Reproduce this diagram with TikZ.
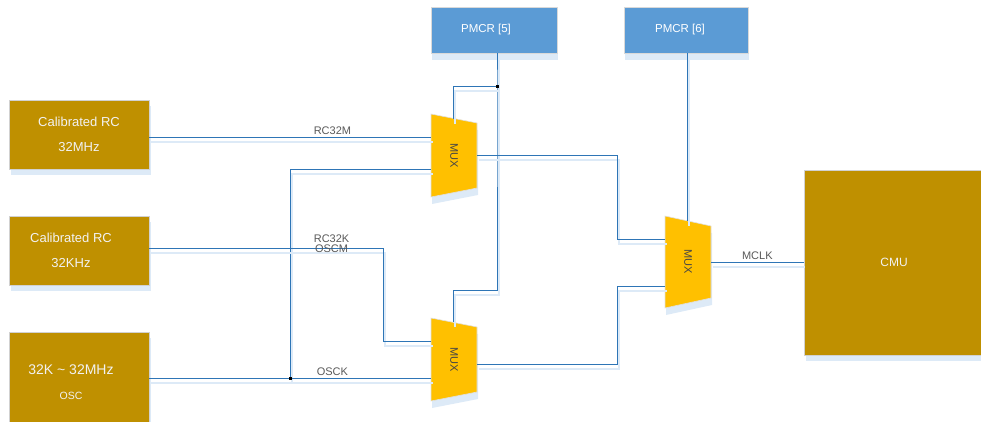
\documentclass[tikz,border=0pt]{standalone}
\usepackage{fontspec}
\setmainfont{Liberation Sans}
\usepackage{xcolor}
\usepackage{tikz}
\usetikzlibrary{positioning,shadows}
\definecolor{ouro}{RGB}{191,144,0}
\definecolor{azulpmcr}{RGB}{91,155,213}
\definecolor{azulfio}{RGB}{46,117,182}
\definecolor{sombra}{RGB}{221,234,247}
\definecolor{amarelomux}{RGB}{255,192,0}
\definecolor{cinzatexto}{RGB}{89,89,89}
\definecolor{cinzamux}{RGB}{70,70,70}
\tikzset{
  bloco/.style={rectangle,fill=ouro,draw=black!18,line width=0.6pt,
    text=white!95!black,align=center,inner sep=0pt,
    drop shadow={shadow xshift=2pt,shadow yshift=-6pt,fill=sombra,opacity=1,draw=none},
    font=\fontsize{13}{25}\selectfont},
  textobloco/.style={text=white!95!black,align=center,inner sep=0pt,
    font=\fontsize{13}{25}\selectfont},
  registro/.style={rectangle,fill=azulpmcr,draw=black!15,line width=0.6pt,
    minimum width=126pt,minimum height=46pt,inner sep=0pt,
    drop shadow={shadow xshift=1pt,shadow yshift=-7pt,fill=sombra,opacity=1,draw=none}},
  textoregistro/.style={text=white,inner sep=0pt,font=\fontsize{11.5}{14}\selectfont},
  muxforma/.style={fill=amarelomux,draw=black!12,line width=0.6pt,
    preaction={fill=sombra,draw=none,transform canvas={xshift=1pt,yshift=-7pt}}},
  muxtexto/.style={rotate=-90,text=cinzamux,font=\fontsize{11}{13}\selectfont},
  fio/.style={azulfio,line width=1pt,
    preaction={draw=sombra,line width=2pt,transform canvas={xshift=1.5pt,yshift=-5pt}}},
  rotulo/.style={above,text=cinzatexto,inner sep=2pt,font=\fontsize{11}{10}\selectfont},
  juncao/.style={rectangle,fill=black,minimum size=3pt,inner sep=0pt}
}
\begin{document}
\begin{tikzpicture}[x=1pt,y=-1pt]
  \useasboundingbox (0,0) rectangle (981,421);
  \clip (0,0) rectangle (981,421);
  % fontes de relogio
  \node[bloco,minimum width=140pt,minimum height=69pt] (rc32m) at (79,134.5)
    {Calibrated RC\\32MHz};
  \node[bloco,minimum width=140pt,minimum height=69pt,
    label={[textobloco,xshift=-8pt]center:Calibrated RC\\32KHz}] (rc32k) at (79,250.5) {};
  \node[bloco,minimum width=140pt,minimum height=100pt,
    label={[textobloco,xshift=-8pt]center:{\fontsize{14}{24}\selectfont 32K \textasciitilde{} 32MHz}\\
     {\fontsize{10.5}{24}\selectfont OSC}}] (osc) at (79,382) {};
  \node[bloco,minimum width=180pt,minimum height=185pt,
    font=\fontsize{12}{14}\selectfont] (cmu) at (894,262.5) {CMU};
  % registros
  \node[registro,label={[textoregistro,xshift=-8pt]center:PMCR [5]}] (pmcr5) at (494,30) {};
  \node[registro,minimum width=124pt,
    label={[textoregistro,xshift=-6pt]center:PMCR [6]}] (pmcr6) at (686,30) {};
  % multiplexadores
  \foreach \nome/\xa/\ya/\yb/\d in {mux1/431/114/197/9,mux2/431/318/401/9,
                                    mux3/665/216/308/10}
    {\draw[muxforma] (\xa,\ya) -- ++(46,\d) -- (\xa+46,\yb-\d) -- (\xa,\yb) -- cycle;
     \node[muxtexto] (\nome) at (\xa+23,{(\ya+\yb)/2}) {MUX};}
  \coordinate (m1a) at (431,137); \coordinate (m1b) at (431,169);
  \coordinate (m1s) at (453,119); \coordinate (m1o) at (477,155);
  \coordinate (m2a) at (431,341); \coordinate (m2b) at (431,378);
  \coordinate (m2s) at (453,322); \coordinate (m2o) at (477,364);
  \coordinate (m3a) at (665,239); \coordinate (m3b) at (665,286);
  \coordinate (m3s) at (687,221); \coordinate (m3o) at (711,262);
  \coordinate (j1) at (497,86);
  \coordinate (j2) at (290,378);
  \coordinate (c1) at (383,248);
  % ligacoes
  \draw[fio] (rc32m.east |- m1a) -- node[rotulo,pos=.65] {RC32M} (m1a);
  \draw[fio] (j2) -- (j2 |- m1b) -- (m1b);
  \draw[fio] (osc.east |- m2b) -- node[rotulo,pos=.65] {OSCK} (m2b);
  \draw[fio] (rc32k.east |- c1) -- node[rotulo,pos=.78,anchor=center,yshift=4pt,
    align=center] {RC32K\\OSCM} (c1) |- (m2a);
  \draw[fio] (pmcr5.south -| j1) -- (j1) -- ++(0,204) -| (m2s);
  \draw[fio] (j1) -| (m1s);
  \draw[fio] (pmcr6.south -| m3s) -- (m3s);
  \draw[fio] (m1o) -- ++(140,0) |- (m3a);
  \draw[fio] (m2o) -- ++(140,0) |- (m3b);
  \draw[fio] (m3o) -- node[rotulo] {MCLK} (cmu.west |- m3o);
  \node[juncao] at (j1) {};
  \node[juncao] at (j2) {};
\end{tikzpicture}
\end{document}
